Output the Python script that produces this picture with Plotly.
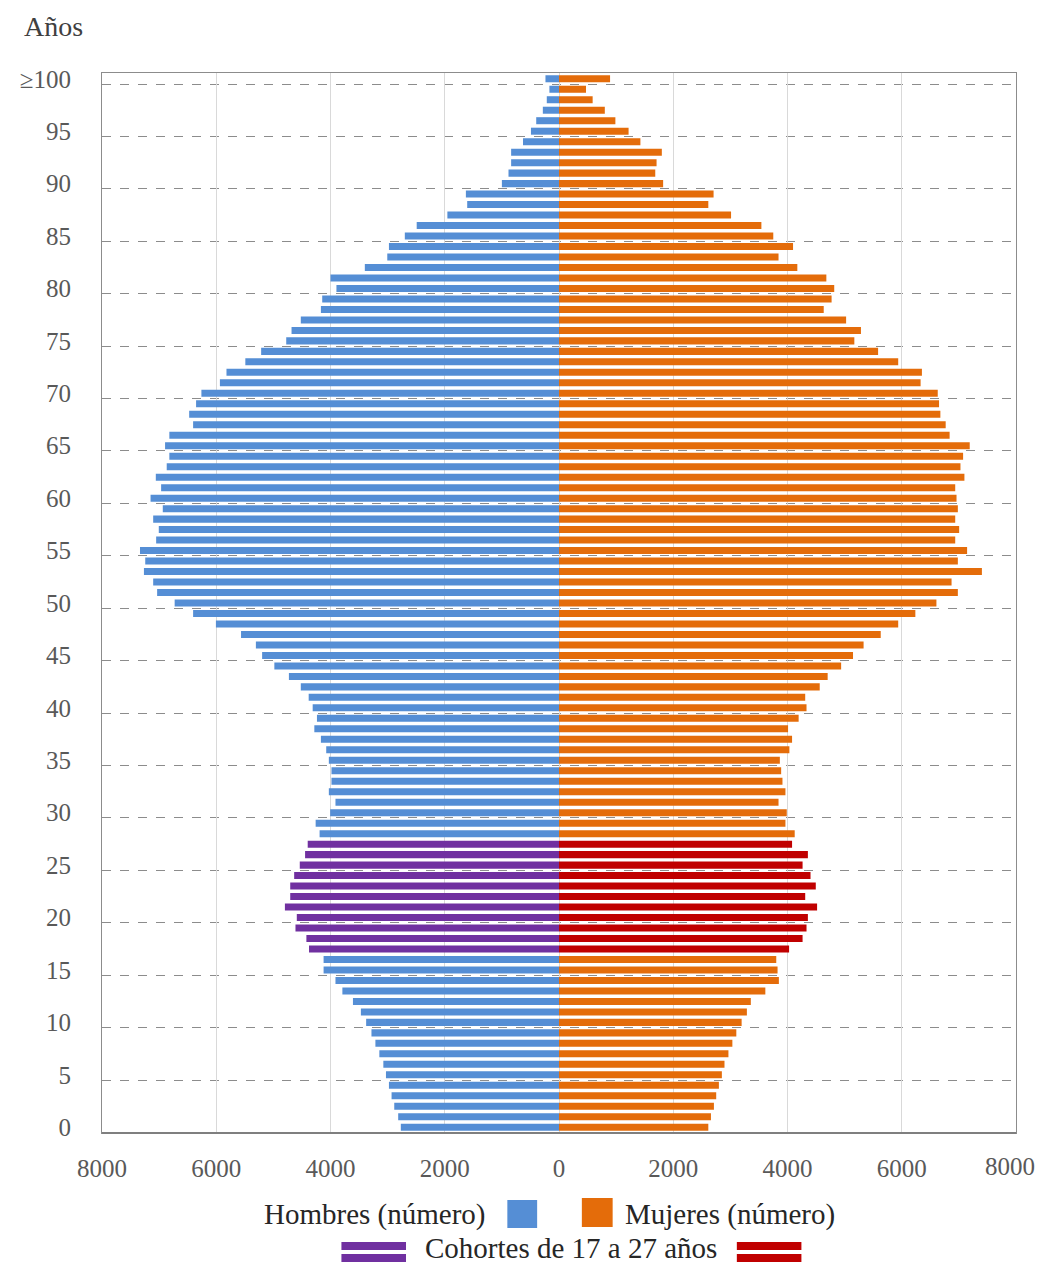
import plotly.graph_objects as go

ages = list(range(101))
hombres = [2769, 2815, 2884, 2931, 2977, 3029, 3075, 3145, 3214, 3283,
           3376, 3468, 3607, 3792, 3913, 4121, 4121, 4376, 4422, 4613,
           4590, 4798, 4705, 4705, 4636, 4538, 4445, 4399, 4191, 4260,
           4006, 3913, 4029, 3983, 3983, 4029, 4075, 4168, 4283, 4237,
           4312, 4382, 4520, 4728, 4983, 5197, 5306, 5566, 6006, 6405,
           6728, 7035, 7104, 7266, 7243, 7335, 7052, 7006, 7104, 6936,
           7150, 6965, 7058, 6867, 6821, 6896, 6821, 6405, 6474, 6353,
           6260, 5936, 5821, 5491, 5214, 4775, 4682, 4520, 4168, 4145,
           3896, 4000, 3399, 3006, 2977, 2699, 2491, 1954, 1607, 1630,
           1000, 884, 838, 838, 630, 491, 399, 283, 214, 168, 237]
mujeres = [2614, 2660, 2712, 2752, 2799, 2851, 2897, 2966, 3035, 3104,
           3197, 3289, 3358, 3612, 3849, 3826, 3803, 4028, 4264, 4333,
           4357, 4518, 4310, 4495, 4403, 4264, 4357, 4080, 4126, 3964,
           3987, 3843, 3964, 3912, 3889, 3866, 4033, 4080, 4010, 4195,
           4333, 4310, 4564, 4703, 4939, 5147, 5332, 5632, 5938, 6238,
           6607, 6982, 6872, 7403, 6982, 7144, 6936, 7005, 6936, 6982,
           6959, 6936, 7097, 7028, 7074, 7190, 6838, 6769, 6676, 6653,
           6630, 6330, 6353, 5938, 5586, 5170, 5286, 5026, 4634, 4772,
           4818, 4680, 4172, 3843, 4097, 3751, 3543, 3012, 2614, 2706,
           1823, 1685, 1708, 1800, 1425, 1218, 987, 802, 589, 473, 894]
cohort_min, cohort_max = 17, 27

x_ticks = [-8000, -6000, -4000, -2000, 0, 2000, 4000, 6000, 8000]
x_ticktext = ["8000", "6000", "4000", "2000", "0", "2000", "4000", "6000", "8000"]
y_ticks = list(range(0, 101, 5))
y_ticktext = [str(a) for a in y_ticks[:-1]] + ["≥100"]

C_MEN, C_WOMEN, C_MEN_C, C_WOMEN_C = "#558ed5", "#e46c0a", "#7030a0", "#c00000"

men_colors = [C_MEN_C if cohort_min <= a <= cohort_max else C_MEN for a in ages]
women_colors = [C_WOMEN_C if cohort_min <= a <= cohort_max else C_WOMEN for a in ages]

SERIF = "Liberation Serif, Times New Roman, serif"

fig = go.Figure()
fig.add_trace(go.Bar(y=ages, x=[-v for v in hombres], orientation="h",
                     marker=dict(color=men_colors, line=dict(width=0)),
                     name="Hombres (número)", showlegend=False))
fig.add_trace(go.Bar(y=ages, x=mujeres, orientation="h",
                     marker=dict(color=women_colors, line=dict(width=0)),
                     name="Mujeres (número)", showlegend=False))

# page body has an 8px default margin; compensate so the picture lines up
OFF = 8
W, H = 1030, 1255
L, T = 96 - OFF, 73 - OFF
pw, ph = 920, 1060
R = W - L - pw
B = H - T - ph


def px(xpix):
    return (xpix - OFF - L) / pw


def py(ypix):
    return (H - B - (ypix - OFF)) / ph


TICK_FONT = dict(family=SERIF, size=25, color="#595959")

fig.update_layout(
    width=W, height=H,
    margin=dict(l=L, r=R, t=T, b=B, pad=0),
    barmode="relative", bargap=0.33,
    plot_bgcolor="white", paper_bgcolor="white",
    showlegend=False,
    font=dict(family=SERIF, color="#595959", size=25),
    xaxis=dict(range=[-8000, 8000], tickvals=x_ticks[:-1], ticktext=x_ticktext[:-1],
               showgrid=True, gridcolor="#d9d9d9", gridwidth=1,
               zeroline=False, showline=True, linecolor="#8c8c8c", linewidth=1,
               mirror=True, ticks="", ticklabelstandoff=13,
               tickfont=TICK_FONT),
    yaxis=dict(range=[-0.55, 100.55], tickvals=y_ticks, ticktext=y_ticktext,
               showgrid=False, zeroline=False, showline=True,
               linecolor="#8c8c8c", linewidth=1, mirror=True, ticks="",
               ticklabelstandoff=25,
               tickfont=TICK_FONT,
               minor=dict(tickmode="linear", tick0=-0.5, dtick=5, showgrid=True,
                          gridcolor="#8c8c8c", griddash="dash", gridwidth=1,
                          ticks="")),
)

# last x tick label, kept inside the figure's edge
fig.add_annotation(text=x_ticktext[-1], xref="x", yref="paper", x=x_ticks[-1],
                   y=py(1166), xanchor="right", yanchor="middle", xshift=21,
                   showarrow=False, font=TICK_FONT)

# bottom axis line a bit darker
fig.add_shape(type="line", xref="paper", yref="paper", x0=0, x1=1, y0=0, y1=0,
              line=dict(color="#7f7f7f", width=2))

# Title "Años"
fig.add_annotation(text="Años", xref="paper", yref="paper", x=px(15), y=py(26),
                   xanchor="left", yanchor="middle", showarrow=False,
                   font=dict(family=SERIF, size=28, color="#404040"))

# Legend (custom)
LEG_FONT = dict(family=SERIF, size=29, color="#262626")
fig.add_annotation(text="Hombres (número)", xref="paper", yref="paper",
                   x=px(484), y=py(1214), xanchor="right", yanchor="middle",
                   showarrow=False, font=LEG_FONT)
fig.add_annotation(text="Mujeres (número)", xref="paper", yref="paper",
                   x=px(620), y=py(1214), xanchor="left", yanchor="middle",
                   showarrow=False, font=LEG_FONT)
fig.add_annotation(text="Cohortes de 17 a 27 años", xref="paper", yref="paper",
                   x=px(568), y=py(1248), xanchor="center", yanchor="middle",
                   showarrow=False, font=LEG_FONT)

fig.add_shape(type="rect", xref="paper", yref="paper", x0=px(504), x1=px(534),
              y0=py(1228), y1=py(1200), fillcolor=C_MEN, line=dict(width=0))
fig.add_shape(type="rect", xref="paper", yref="paper", x0=px(579), x1=px(610),
              y0=py(1227), y1=py(1198), fillcolor=C_WOMEN, line=dict(width=0))
for (x0, x1, col) in [(337, 402, C_MEN_C), (735, 800, C_WOMEN_C)]:
    fig.add_shape(type="rect", xref="paper", yref="paper", x0=px(x0), x1=px(x1),
                  y0=py(1250), y1=py(1242), fillcolor=col, line=dict(width=0))
    fig.add_shape(type="rect", xref="paper", yref="paper", x0=px(x0), x1=px(x1),
                  y0=py(1262), y1=py(1254), fillcolor=col, line=dict(width=0))

fig.write_html("out.html", config={"displayModeBar": False})
